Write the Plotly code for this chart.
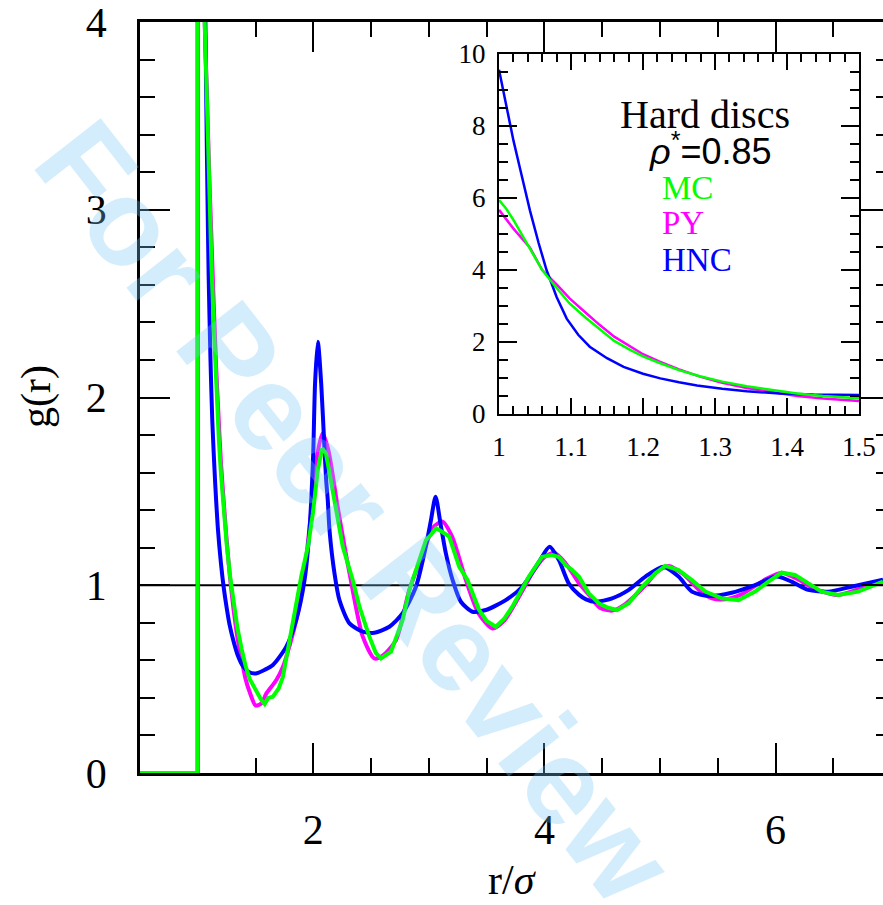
import plotly.graph_objects as go

# ---------------- data ----------------
# contact region (inset, 1 <= r <= 1.5)
r_in_hnc = [1.0, 1.01, 1.02, 1.03, 1.043, 1.055, 1.066, 1.08, 1.094, 1.11, 1.126, 1.15, 1.173, 1.2,
            1.224, 1.25, 1.275, 1.31, 1.344, 1.39, 1.437, 1.5]
g_in_hnc = [9.56, 8.55, 7.6, 6.75, 5.65, 4.75, 4.0, 3.25, 2.65, 2.2, 1.87, 1.55, 1.31, 1.12,
            0.99, 0.88, 0.79, 0.70, 0.63, 0.57, 0.54, 0.53]

r_in_py = [1.0, 1.02, 1.043, 1.06, 1.08, 1.098, 1.12, 1.14, 1.16, 1.182, 1.2, 1.224, 1.25, 1.279,
           1.31, 1.344, 1.38, 1.414, 1.45, 1.5]
g_in_py = [5.67, 5.15, 4.62, 4.0, 3.6, 3.21, 2.82, 2.47, 2.15, 1.87, 1.66, 1.45, 1.24, 1.04,
           0.87, 0.72, 0.6, 0.5, 0.43, 0.36]

r_in_mc = [1.0, 1.01, 1.02, 1.03, 1.043, 1.06, 1.08, 1.098, 1.12, 1.14, 1.16, 1.182, 1.2, 1.224,
           1.25, 1.279, 1.31, 1.344, 1.38, 1.414, 1.45, 1.5]
g_in_mc = [5.94, 5.7, 5.39, 5.05, 4.58, 4.0, 3.5, 3.07, 2.68, 2.36, 2.03, 1.78, 1.6, 1.41,
           1.22, 1.05, 0.9, 0.77, 0.66, 0.57, 0.5, 0.44]

# longer range (r > 1.5)
r_tail_hnc = [1.58, 1.65, 1.766, 1.852, 1.924, 1.967, 1.99, 2.0, 2.015, 2.039, 2.068, 2.097,
              2.111, 2.125, 2.14, 2.183, 2.226, 2.313, 2.428, 2.528, 2.658, 2.773, 2.888, 2.973,
              3.016, 3.058, 3.10, 3.147, 3.205, 3.277, 3.377, 3.492, 3.665, 3.809, 3.953, 4.045,
              4.125, 4.21, 4.298, 4.36, 4.44, 4.586, 4.73, 4.874, 5.03, 5.161, 5.276, 5.42, 5.62,
              5.823, 6.01, 6.139, 6.283, 6.456, 6.657, 6.93]
g_tail_hnc = [0.55, 0.575, 0.673, 0.815, 1.028, 1.294, 1.56, 1.72, 2.075, 2.297, 2.075, 1.72,
              1.56, 1.454, 1.294, 1.064, 0.921, 0.797, 0.753, 0.747, 0.779, 0.851, 0.992, 1.205,
              1.34, 1.472, 1.33, 1.17, 1.028, 0.912, 0.859, 0.868, 0.921, 0.992, 1.125, 1.205,
              1.134, 1.01, 0.95, 0.925, 0.912, 0.93, 0.975, 1.046, 1.099, 1.046, 0.966, 0.943, 0.96,
              1.001, 1.046, 1.019, 0.975, 0.966, 0.992, 1.03]

r_tail_py = [1.55, 1.594, 1.68, 1.737, 1.80, 1.852, 1.91, 1.98, 2.03, 2.08, 2.13, 2.21, 2.313, 2.428,
             2.528, 2.6, 2.716, 2.831, 2.97, 3.04, 3.118, 3.2, 3.32, 3.43, 3.55, 3.65, 3.78, 3.9,
             4.0, 4.082, 4.18, 4.3, 4.384, 4.48, 4.586, 4.7, 4.874, 4.97, 5.075, 5.2, 5.348, 5.45,
             5.564, 5.7, 5.91, 6.053, 6.2, 6.34, 6.54, 6.7, 6.93]
g_tail_py = [0.37, 0.424, 0.495, 0.566, 0.69, 0.815, 1.0, 1.385, 1.68, 1.81, 1.72, 1.42, 1.064, 0.726,
             0.61, 0.625, 0.708, 0.975, 1.205, 1.31, 1.339, 1.26, 1.028, 0.85, 0.77, 0.81, 0.939, 1.07,
             1.15, 1.173, 1.12, 1.01, 0.95, 0.88, 0.865, 0.9, 1.0, 1.07, 1.103, 1.06, 0.97, 0.93,
             0.925, 0.95, 1.03, 1.067, 1.03, 0.98, 0.948, 0.975, 1.02]

r_tail_mc = [1.507, 1.55, 1.579, 1.61, 1.65, 1.70, 1.737, 1.795, 1.852, 1.895, 1.953, 1.996, 2.04,
             2.077, 2.11, 2.183, 2.255, 2.341, 2.399, 2.485, 2.54, 2.586, 2.63, 2.672, 2.773, 2.831,
             2.917, 2.975, 3.02, 3.061, 3.1, 3.176, 3.262, 3.334, 3.435, 3.5, 3.579, 3.65, 3.722,
             3.866, 3.981, 4.068, 4.125, 4.183, 4.24, 4.298, 4.384, 4.47, 4.55, 4.629, 4.73, 4.845,
             4.96, 5.046, 5.161, 5.276, 5.392, 5.535, 5.679, 5.823, 5.938, 6.053, 6.168, 6.283,
             6.398, 6.542, 6.715, 6.93]
g_tail_mc = [0.433, 0.389, 0.367, 0.40, 0.406, 0.45, 0.513, 0.708, 0.921, 1.046, 1.205, 1.383, 1.62,
             1.729, 1.70, 1.454, 1.205, 1.028, 0.886, 0.726, 0.64, 0.61, 0.63, 0.646, 0.815, 0.975,
             1.134, 1.241, 1.27, 1.303, 1.29, 1.259, 1.099, 1.028, 0.868, 0.81, 0.779, 0.82, 0.886,
             1.046, 1.152, 1.161, 1.15, 1.108, 1.081, 1.046, 0.957, 0.904, 0.88, 0.868, 0.904, 0.992,
             1.064, 1.103, 1.081, 1.028, 0.966, 0.93, 0.921, 0.966, 1.019, 1.067, 1.055, 1.01,
             0.966, 0.948, 0.966, 1.019]

r_core = [0.5, 1.0]      # hard core: g(r)=0 for r<1
g_core = [0.0, 0.0]

series = [  # name, colour, inset r, inset g, tail r, tail g, spline?
    ("PY", "#ff00ff", r_in_py, g_in_py, r_tail_py, g_tail_py, True),
    ("HNC", "#0000ff", r_in_hnc, g_in_hnc, r_tail_hnc, g_tail_hnc, True),
    ("MC", "#00ff00", r_in_mc, g_in_mc, r_tail_mc, g_tail_mc, False),
]

FONT = "Liberation Serif"
fig = go.Figure()

for name, col, ri, gi, rt, gt, smooth in series:
    # step at contact
    fig.add_trace(go.Scatter(x=r_core + [ri[0]], y=g_core + [gi[0]], mode="lines",
                             line=dict(color=col, width=4), showlegend=False,
                             xaxis="x", yaxis="y"))
    fig.add_trace(go.Scatter(x=ri + rt, y=gi + gt, mode="lines",
                             line=dict(color=col, width=4, shape="spline" if smooth else "linear",
                                       smoothing=0.7),
                             showlegend=False, xaxis="x", yaxis="y"))
    fig.add_trace(go.Scatter(x=ri, y=gi, mode="lines",
                             line=dict(color=col, width=2.5), showlegend=False,
                             xaxis="x2", yaxis="y2"))

# helper trace so the right-hand tick axis is drawn
fig.add_trace(go.Scatter(x=[None], y=[None], xaxis="x", yaxis="y3", showlegend=False))

ax_common = dict(showgrid=False, zeroline=False, showline=True, linecolor="black",
                 ticks="inside", tickcolor="black", automargin=False)

fig.update_layout(
    template="none",
    width=883, height=905,
    margin=dict(l=140, r=0, t=22, b=132, autoexpand=False),
    paper_bgcolor="white", plot_bgcolor="white",
    xaxis=dict(**ax_common, range=[0.5, 6.93], domain=[0, 1], linewidth=2.5, mirror="ticks",
               tick0=0, dtick=2, ticklen=30, tickwidth=2, layer="below traces",
               minor=dict(dtick=0.5, tick0=0, ticklen=15, tickwidth=2, ticks="inside",
                          tickcolor="black"),
               tickfont=dict(family=FONT, size=42, color="black"), ticklabelstandoff=18),
    yaxis=dict(**ax_common, range=[0, 4], domain=[0, 1], linewidth=2.5, mirror=False,
               tick0=0, dtick=1, ticklen=30, tickwidth=2, layer="below traces",
               ticklabeloverflow="allow",
               minor=dict(dtick=0.2, tick0=0, ticklen=15, tickwidth=2, ticks="inside",
                          tickcolor="black"),
               tickfont=dict(family=FONT, size=42, color="black"), ticklabelstandoff=22),
    yaxis3=dict(overlaying="y", side="right", anchor="x", range=[0, 4], showgrid=False,
                zeroline=False, showline=False, ticks="inside", tick0=0, dtick=1, ticklen=22,
                tickwidth=2, tickcolor="black", showticklabels=False, automargin=False,
                minor=dict(dtick=0.2, tick0=0, ticklen=7, tickwidth=2, ticks="inside",
                           tickcolor="black")),
    xaxis2=dict(**ax_common, anchor="y2", domain=[0.4832, 0.9677], range=[1, 1.5], linewidth=2,
                mirror="ticks", tickvals=[1, 1.1, 1.2, 1.3, 1.4, 1.5],
                ticktext=["1", "1.1", "1.2", "1.3", "1.4", "1.5"], ticklen=16, tickwidth=1.5,
                minor=dict(dtick=0.02, tick0=1, ticklen=8, tickwidth=1.5, ticks="inside",
                           tickcolor="black"),
                tickfont=dict(family=FONT, size=27, color="black"), ticklabelstandoff=8),
    yaxis2=dict(**ax_common, anchor="x2", domain=[0.478, 0.9574], range=[0, 10], linewidth=2,
                mirror="ticks", tick0=0, dtick=2, ticklen=18, tickwidth=1.5,
                minor=dict(dtick=0.5, tick0=0, ticklen=9, tickwidth=1.5, ticks="inside",
                           tickcolor="black"),
                tickfont=dict(family=FONT, size=27, color="black"), ticklabelstandoff=6),
    shapes=[dict(type="line", xref="x", yref="y", x0=0.5, x1=6.93, y0=1, y1=1,
                 line=dict(color="black", width=2), layer="below")],
)

ann = [
    dict(text="g(r)", x=-0.1386, y=0.5007, textangle=-90, font=dict(family=FONT, size=42)),
    dict(text="r/<i>σ</i>", x=0.5007, y=-0.1425, font=dict(family=FONT, size=42)),
    dict(text="Hard discs", x=0.7604, y=0.877, font=dict(family=FONT, size=40)),
    dict(text="<i>ρ</i><sup>*</sup>=0.85", x=0.7672, y=0.831,
         font=dict(family="Liberation Sans", size=36)),
    dict(text="MC", x=0.6999, y=0.779, xanchor="left", font=dict(family=FONT, size=33, color="#00ff00")),
    dict(text="PY", x=0.6999, y=0.7324, xanchor="left", font=dict(family=FONT, size=33, color="#ff00ff")),
    dict(text="HNC", x=0.6999, y=0.6831, xanchor="left", font=dict(family=FONT, size=33, color="#0000ff")),
    dict(text="<b>For Peer Review</b>", x=0.2894, y=0.3475, textangle=52,
         font=dict(family="Liberation Sans", size=122, color="rgba(120,200,245,0.32)")),
]
for a in ann:
    a.setdefault("xanchor", "center")
    a.update(xref="paper", yref="paper", showarrow=False, yanchor="middle")
    a["font"].setdefault("color", "black")
fig.update_layout(annotations=ann)

fig.write_html("out.html", config={"displayModeBar": False},
               post_script="document.body.style.margin='0';document.body.style.overflow='hidden';")
